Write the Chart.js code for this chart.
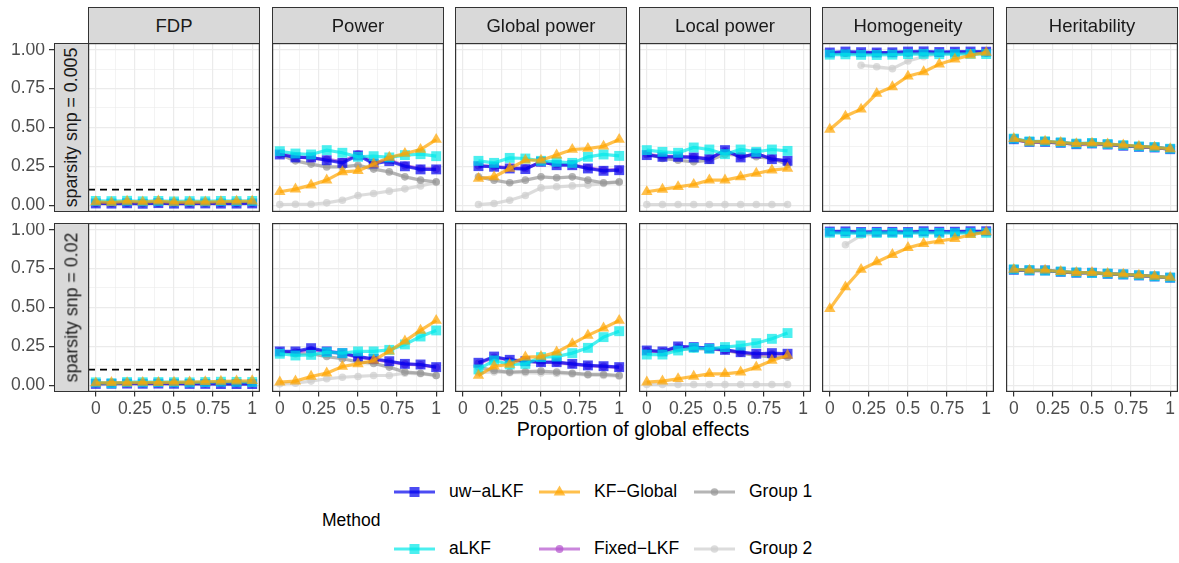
<!DOCTYPE html>
<html>
<head>
<meta charset="utf-8">
<script src="https://cdn.jsdelivr.net/npm/chart.js@4.4.1/dist/chart.umd.min.js"></script>
<style>
  body { margin: 0; width: 1179px; height: 563px; background: #fff; position: relative; overflow: hidden;
         font-family: "Liberation Sans", Arial, sans-serif; }
  canvas { position: absolute; }
  .strip { position: absolute; background: #d9d9d9; border: 1.2px solid #333; box-sizing: border-box;
           color: #1a1a1a; font-size: 18.5px; display: flex; align-items: center; justify-content: center; z-index: 2; }
  .strip span { white-space: nowrap; }
  .rstrip { font-size: 17.8px; }
  .rstrip span { transform: rotate(-90deg); }
  .axtitle { position: absolute; left: 0; width: 1266px; text-align: center; font-size: 19.6px; color: #000; top: 418px; }
  .legend { position: absolute; font-size: 17.5px; color: #000; }
  .key { position: absolute; }
</style>
</head>
<body>
<div class="axtitle">Proportion of global effects</div>
<script>
// methods, in legend order
const methods = ['uw−aLKF', 'aLKF', 'KF−Global', 'Fixed−LKF', 'Group 1', 'Group 2'];
const metrics = ['FDP', 'Power', 'Global power', 'Local power', 'Homogeneity', 'Heritability'];
const sparsity = ['sparsity snp = 0.005', 'sparsity snp = 0.02'];

const xAll = [0, 0.1, 0.2, 0.3, 0.4, 0.5, 0.6, 0.7, 0.8, 0.9, 1];
const xGlobal = [0.1, 0.2, 0.3, 0.4, 0.5, 0.6, 0.7, 0.8, 0.9, 1];
const xLocal = [0, 0.1, 0.2, 0.3, 0.4, 0.5, 0.6, 0.7, 0.8, 0.9];

const xTicks = [0, 0.25, 0.5, 0.75, 1];
const xTickLabels = ['0', '0.25', '0.5', '0.75', '1'];
const yTicks = [0, 0.25, 0.5, 0.75, 1];
const yTickLabels = ['0.00', '0.25', '0.50', '0.75', '1.00'];
const fdpTarget = 0.1;

// rows: uw-aLKF, aLKF, KF-Global, Fixed-LKF, Group 1, Group 2
const fdp005 = [
  [0.011, 0.010, 0.012, 0.009, 0.013, 0.010, 0.010, 0.011, 0.010, 0.010, 0.011],
  [0.027, 0.026, 0.028, 0.025, 0.027, 0.024, 0.026, 0.025, 0.027, 0.026, 0.027],
  [0.021, 0.017, 0.024, 0.020, 0.026, 0.018, 0.020, 0.019, 0.022, 0.024, 0.025],
  [0.016, 0.015, 0.017, 0.014, 0.018, 0.015, 0.015, 0.016, 0.015, 0.015, 0.016],
  [0.012, 0.011, 0.013, 0.010, 0.013, 0.011, 0.011, 0.012, 0.011, 0.011, 0.012],
  [0.010, 0.010, 0.011, 0.009, 0.012, 0.010, 0.010, 0.010, 0.010, 0.010, 0.011]
];
const power005 = [
  [0.326, 0.307, 0.307, 0.289, 0.272, 0.320, 0.268, 0.283, 0.250, 0.230, 0.230],
  [0.347, 0.332, 0.326, 0.354, 0.337, 0.311, 0.315, 0.307, 0.322, 0.328, 0.315],
  [0.086, 0.103, 0.129, 0.161, 0.214, 0.221, 0.264, 0.307, 0.332, 0.358, 0.422],
  [0.330, 0.312, 0.300, 0.295, 0.280, 0.330, 0.275, 0.290, 0.255, 0.235, 0.232],
  [0.326, 0.285, 0.264, 0.246, 0.246, 0.257, 0.232, 0.214, 0.182, 0.161, 0.150],
  [0.004, 0.006, 0.006, 0.015, 0.032, 0.062, 0.075, 0.090, 0.105, 0.124, 0.146]
];
const global005 = [
  [0.251, 0.247, 0.236, 0.232, 0.279, 0.257, 0.257, 0.236, 0.221, 0.225],
  [0.285, 0.272, 0.304, 0.300, 0.285, 0.279, 0.272, 0.311, 0.326, 0.317],
  [0.171, 0.182, 0.236, 0.289, 0.289, 0.322, 0.358, 0.364, 0.379, 0.422],
  [0.255, 0.250, 0.240, 0.236, 0.275, 0.262, 0.260, 0.240, 0.225, 0.228],
  [0.182, 0.161, 0.144, 0.161, 0.182, 0.176, 0.182, 0.161, 0.144, 0.150],
  [0.004, 0.011, 0.032, 0.062, 0.111, 0.118, 0.124, 0.129, 0.139, 0.146]
];
const local005 = [
  [0.322, 0.311, 0.311, 0.307, 0.296, 0.354, 0.307, 0.332, 0.296, 0.285],
  [0.354, 0.343, 0.337, 0.371, 0.358, 0.328, 0.358, 0.343, 0.358, 0.349],
  [0.086, 0.101, 0.118, 0.133, 0.161, 0.161, 0.182, 0.204, 0.225, 0.236],
  [0.326, 0.315, 0.314, 0.310, 0.300, 0.350, 0.310, 0.330, 0.300, 0.282],
  [0.332, 0.300, 0.289, 0.279, 0.289, 0.326, 0.322, 0.311, 0.300, 0.262],
  [0.004, 0.004, 0.004, 0.004, 0.004, 0.004, 0.004, 0.004, 0.004, 0.004]
];
const homog005 = [
  [0.982, 0.988, 0.984, 0.982, 0.983, 0.988, 0.989, 0.985, 0.987, 0.988, 0.987],
  [0.968, 0.970, 0.967, 0.966, 0.968, 0.972, 0.973, 0.971, 0.972, 0.973, 0.972],
  [0.487, 0.572, 0.617, 0.718, 0.761, 0.829, 0.857, 0.907, 0.939, 0.965, 0.982],
  [0.978, 0.980, 0.979, 0.978, 0.979, 0.981, 0.982, 0.981, 0.982, 0.982, 0.982],
  [0.975, 0.977, 0.976, 0.975, 0.976, 0.978, 0.979, 0.978, 0.979, 0.979, 0.979],
  [null, null, 0.900, 0.890, 0.878, 0.927, 0.955, 0.975, 0.980, 0.985, 0.988]
];
const herit005 = [
  [0.424, 0.407, 0.407, 0.401, 0.392, 0.397, 0.390, 0.382, 0.375, 0.371, 0.360],
  [0.428, 0.410, 0.411, 0.404, 0.396, 0.400, 0.393, 0.386, 0.378, 0.374, 0.363],
  [0.428, 0.405, 0.410, 0.402, 0.395, 0.398, 0.392, 0.386, 0.378, 0.372, 0.362],
  [0.422, 0.406, 0.406, 0.400, 0.392, 0.396, 0.389, 0.382, 0.375, 0.370, 0.360],
  [0.422, 0.406, 0.406, 0.400, 0.392, 0.396, 0.389, 0.382, 0.375, 0.370, 0.360],
  [0.422, 0.406, 0.406, 0.400, 0.392, 0.396, 0.389, 0.382, 0.375, 0.370, 0.360]
];

const fdp002 = [
  [0.008, 0.009, 0.010, 0.009, 0.010, 0.009, 0.008, 0.008, 0.007, 0.007, 0.007],
  [0.018, 0.012, 0.020, 0.019, 0.020, 0.019, 0.018, 0.020, 0.022, 0.021, 0.020],
  [0.014, 0.016, 0.015, 0.017, 0.016, 0.018, 0.020, 0.022, 0.024, 0.026, 0.028],
  [0.012, 0.012, 0.013, 0.013, 0.013, 0.013, 0.012, 0.013, 0.013, 0.013, 0.012],
  [0.010, 0.010, 0.011, 0.010, 0.011, 0.010, 0.010, 0.010, 0.010, 0.010, 0.010],
  [0.009, 0.009, 0.010, 0.009, 0.010, 0.009, 0.009, 0.009, 0.009, 0.009, 0.009]
];
const power002 = [
  [0.217, 0.217, 0.238, 0.217, 0.206, 0.184, 0.169, 0.154, 0.137, 0.133, 0.116],
  [0.202, 0.191, 0.195, 0.212, 0.206, 0.217, 0.217, 0.227, 0.262, 0.313, 0.352],
  [0.019, 0.026, 0.056, 0.077, 0.120, 0.137, 0.159, 0.219, 0.283, 0.352, 0.416],
  [0.215, 0.212, 0.228, 0.214, 0.203, 0.180, 0.165, 0.150, 0.135, 0.130, 0.114],
  [0.217, 0.202, 0.202, 0.184, 0.170, 0.150, 0.140, 0.116, 0.084, 0.077, 0.062],
  [0.009, 0.013, 0.026, 0.041, 0.051, 0.056, 0.062, 0.062, 0.077, 0.073, 0.062]
];
const global002 = [
  [0.144, 0.184, 0.163, 0.154, 0.148, 0.148, 0.137, 0.127, 0.122, 0.116],
  [0.101, 0.159, 0.133, 0.137, 0.180, 0.184, 0.206, 0.240, 0.309, 0.347],
  [0.062, 0.122, 0.133, 0.180, 0.184, 0.212, 0.266, 0.320, 0.367, 0.416],
  [0.140, 0.178, 0.160, 0.152, 0.146, 0.145, 0.135, 0.125, 0.120, 0.114],
  [0.116, 0.094, 0.084, 0.088, 0.090, 0.084, 0.077, 0.069, 0.069, 0.062],
  [0.080, 0.085, 0.080, 0.080, 0.078, 0.075, 0.072, 0.065, 0.062, 0.058]
];
const local002 = [
  [0.223, 0.217, 0.249, 0.245, 0.238, 0.227, 0.212, 0.202, 0.206, 0.202],
  [0.197, 0.197, 0.223, 0.240, 0.234, 0.245, 0.255, 0.270, 0.298, 0.335],
  [0.019, 0.026, 0.041, 0.056, 0.073, 0.073, 0.084, 0.116, 0.159, 0.191],
  [0.220, 0.215, 0.245, 0.242, 0.236, 0.225, 0.210, 0.200, 0.200, 0.198],
  [0.223, 0.212, 0.234, 0.234, 0.234, 0.223, 0.206, 0.191, 0.180, 0.180],
  [0.004, 0.004, 0.004, 0.004, 0.004, 0.004, 0.004, 0.004, 0.004, 0.004]
];
const homog002 = [
  [0.988, 0.989, 0.985, 0.986, 0.986, 0.985, 0.990, 0.987, 0.987, 0.990, 0.990],
  [0.980, 0.978, 0.978, 0.979, 0.979, 0.978, 0.980, 0.979, 0.978, 0.980, 0.980],
  [0.491, 0.631, 0.744, 0.792, 0.839, 0.884, 0.910, 0.927, 0.942, 0.967, 0.985],
  [0.985, 0.985, 0.984, 0.985, 0.985, 0.984, 0.986, 0.985, 0.985, 0.986, 0.986],
  [0.983, 0.983, 0.982, 0.983, 0.983, 0.982, 0.984, 0.983, 0.983, 0.984, 0.984],
  [null, 0.903, 0.963, 0.975, 0.980, 0.982, 0.984, 0.985, 0.985, 0.986, 0.986]
];
const herit002 = [
  [0.742, 0.738, 0.738, 0.729, 0.723, 0.723, 0.716, 0.712, 0.706, 0.699, 0.691],
  [0.745, 0.740, 0.737, 0.731, 0.725, 0.722, 0.718, 0.713, 0.707, 0.700, 0.692],
  [0.744, 0.739, 0.739, 0.730, 0.724, 0.724, 0.717, 0.713, 0.707, 0.700, 0.692],
  [0.741, 0.737, 0.737, 0.728, 0.722, 0.722, 0.715, 0.711, 0.705, 0.698, 0.690],
  [0.741, 0.737, 0.737, 0.728, 0.722, 0.722, 0.715, 0.711, 0.705, 0.698, 0.690],
  [0.741, 0.737, 0.737, 0.728, 0.722, 0.722, 0.715, 0.711, 0.705, 0.698, 0.690]
];

const panels = [
  [[xAll, fdp005], [xAll, power005], [xGlobal, global005], [xLocal, local005], [xAll, homog005], [xAll, herit005]],
  [[xAll, fdp002], [xAll, power002], [xGlobal, global002], [xLocal, local002], [xAll, homog002], [xAll, herit002]]
];

// look
const colors = ['rgba(0,0,238,0.7)', 'rgba(0,232,232,0.7)', 'rgba(255,165,0,0.7)',
                'rgba(180,82,205,0.7)', 'rgba(150,150,150,0.7)', 'rgba(205,205,205,0.7)'];
const shapes = ['rect', 'rect', 'triangle', 'circle', 'circle', 'circle'];
const radii = [7, 7, 6.6, 3.9, 3.8, 3.8];
const drawOrder = [2, 1, 0, 3, 4, 5]; // first = on top

const panelLeft = [88, 272, 455, 639, 822, 1006];
const panelTop = [43, 223];
const PW = 172, PH = 169, XAXIS_H = 30;
const gridVals = [0, 0.125, 0.25, 0.375, 0.5, 0.625, 0.75, 0.875, 1];
const font = { family: '"Liberation Sans", Arial, sans-serif', size: 17.5 };

const panelBorder = {
  id: 'panelBorder',
  afterDraw(chart) {
    const a = chart.chartArea, c = chart.ctx;
    c.save();
    c.strokeStyle = '#333';
    c.lineWidth = 1.2;
    c.strokeRect(a.left + 0.6, a.top + 0.6, a.right - a.left - 1.2, a.bottom - a.top - 1.2);
    c.restore();
  }
};

function isMajor(v, list) { return list.some(t => Math.abs(t - v) < 1e-9); }

function makeDatasets(xs, rows, withTarget) {
  const ds = drawOrder.map(i => ({
    label: methods[i],
    data: xs.map((x, k) => ({ x: x, y: rows[i][k] })),
    borderColor: colors[i],
    backgroundColor: colors[i],
    borderWidth: 3.2,
    pointStyle: shapes[i],
    pointRadius: radii[i],
    pointBackgroundColor: colors[i],
    pointBorderWidth: 0,
    tension: 0,
    spanGaps: false
  }));
  if (withTarget) {
    ds.push({
      label: 'target',
      data: [{ x: -0.05, y: fdpTarget }, { x: 1.05, y: fdpTarget }],
      borderColor: '#000', borderWidth: 1.6, borderDash: [7, 5], pointRadius: 0
    });
  }
  return ds;
}

for (let r = 0; r < 2; r++) {
  for (let c = 0; c < 6; c++) {
    const left = c === 0 ? 0 : panelLeft[c];
    const w = panelLeft[c] + PW - left;
    const h = PH + (r === 1 ? XAXIS_H : 0);
    const cv = document.createElement('canvas');
    cv.width = w; cv.height = h;
    cv.style.left = left + 'px'; cv.style.top = panelTop[r] + 'px';
    document.body.appendChild(cv);
    const [xs, rows] = panels[r][c];
    const showY = c === 0, showX = r === 1;

    new Chart(cv, {
      type: 'line',
      data: { datasets: makeDatasets(xs, rows, c === 0) },
      plugins: [panelBorder],
      options: {
        responsive: false, animation: false, events: [],
        layout: { padding: 0, autoPadding: false },
        plugins: { legend: { display: false }, tooltip: { enabled: false } },
        scales: {
          x: {
            type: 'linear', min: -0.05, max: 1.05,
            border: { display: false },
            afterBuildTicks: s => { s.ticks = gridVals.map(v => ({ value: v })); },
            afterFit: s => { s.height = showX ? XAXIS_H : 0; s.paddingLeft = 0; s.paddingRight = 0; },
            grid: {
              color: '#ebebeb',
              lineWidth: ctx => isMajor(ctx.tick.value, xTicks) ? 1.2 : 0.6,
              drawTicks: showX, tickLength: 4.5,
              tickColor: ctx => isMajor(ctx.tick.value, xTicks) ? '#333' : 'rgba(0,0,0,0)',
              tickWidth: 1.2
            },
            ticks: {
              display: showX, autoSkip: false, maxRotation: 0, padding: 2,
              color: '#4d4d4d', font: font,
              callback: v => { const i = xTicks.findIndex(t => Math.abs(t - v) < 1e-9); return i >= 0 ? xTickLabels[i] : ''; }
            }
          },
          y: {
            type: 'linear', min: -0.044, max: 1.043,
            border: { display: false },
            afterBuildTicks: s => { s.ticks = gridVals.map(v => ({ value: v })); },
            afterFit: s => { s.width = showY ? 88 : 0; s.paddingTop = 0; s.paddingBottom = 0; },
            grid: {
              color: '#ebebeb',
              lineWidth: ctx => isMajor(ctx.tick.value, yTicks) ? 1.2 : 0.6,
              drawTicks: showY, tickLength: 39,
              tickColor: ctx => isMajor(ctx.tick.value, yTicks) ? '#333' : 'rgba(0,0,0,0)',
              tickWidth: 1.2
            },
            ticks: {
              display: showY, autoSkip: false, padding: 4,
              color: '#4d4d4d', font: font,
              callback: v => { const i = yTicks.findIndex(t => Math.abs(t - v) < 1e-9); return i >= 0 ? yTickLabels[i] : ''; }
            }
          }
        }
      }
    });
  }
}

// facet strips
metrics.forEach((m, c) => {
  const d = document.createElement('div');
  d.className = 'strip';
  d.style.left = panelLeft[c] + 'px'; d.style.top = '7px';
  d.style.width = PW + 'px'; d.style.height = '37px';
  d.innerHTML = '<span>' + m + '</span>';
  document.body.appendChild(d);
});
sparsity.forEach((s, r) => {
  const d = document.createElement('div');
  d.className = 'strip rstrip';
  d.style.left = '54px'; d.style.top = panelTop[r] + 'px';
  d.style.width = '35px'; d.style.height = PH + 'px';
  d.innerHTML = '<span>' + s + '</span>';
  document.body.appendChild(d);
});

// legend (column-major, 2 rows)
function addLegendText(txt, x, yc) {
  const d = document.createElement('div');
  d.className = 'legend';
  d.style.left = x + 'px'; d.style.top = (yc - 11) + 'px';
  d.textContent = txt;
  document.body.appendChild(d);
}
addLegendText('Method', 322, 521);
const keyX = [394, 539, 694], rowY = [492, 549];
methods.forEach((m, i) => {
  const col = Math.floor(i / 2), row = i % 2;
  const x = keyX[col], y = rowY[row];
  let mark = '';
  if (shapes[i] === 'rect') mark = '<rect x="15.5" y="6" width="10" height="10" fill="' + colors[i] + '"/>';
  else if (shapes[i] === 'triangle') mark = '<polygon points="20.5,4.5 26.3,14.5 14.7,14.5" fill="' + colors[i] + '"/>';
  else mark = '<circle cx="20.5" cy="11" r="' + radii[i] + '" fill="' + colors[i] + '"/>';
  const k = document.createElement('div');
  k.className = 'key';
  k.style.left = x + 'px'; k.style.top = (y - 11) + 'px';
  k.innerHTML = '<svg width="41" height="22"><line x1="0" y1="11" x2="41" y2="11" stroke="' + colors[i] +
    '" stroke-width="3.2"/>' + mark + '</svg>';
  document.body.appendChild(k);
  addLegendText(m, x + 55, y);
});
</script>
</body>
</html>
